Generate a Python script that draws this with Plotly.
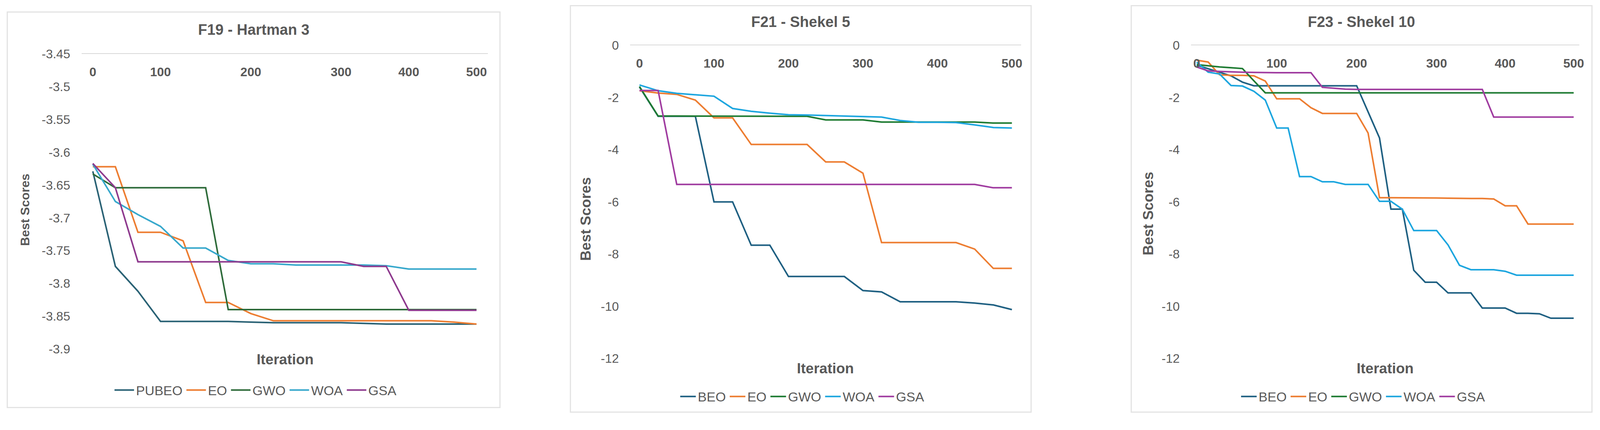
import plotly.graph_objects as go

W, H = 4194, 1100

# ---- data -------------------------------------------------------------
names_f19 = ["PUBEO", "EO", "GWO", "WOA", "GSA"]
names_f21 = ["BEO", "EO", "GWO", "WOA", "GSA"]
names_f23 = ["BEO", "EO", "GWO", "WOA", "GSA"]

iter_f19 = [0, 33, 66, 100, 125, 150, 175, 200, 225, 250, 275, 300, 333, 366,
            400, 433, 466, 500]
f19_pubeo = [-3.629, -3.774, -3.812, -3.858, -3.858, -3.858, -3.858, -3.859,
             -3.860, -3.860, -3.860, -3.860, -3.861, -3.862, -3.862, -3.862,
             -3.862, -3.862]
f19_eo = [-3.622, -3.622, -3.722, -3.722, -3.735, -3.829, -3.829, -3.846,
          -3.857, -3.857, -3.857, -3.857, -3.857, -3.857, -3.857, -3.857,
          -3.859, -3.862]
f19_gwo = [-3.633, -3.654, -3.654, -3.654, -3.654, -3.654, -3.840, -3.840,
           -3.840, -3.840, -3.840, -3.840, -3.840, -3.840, -3.840, -3.840,
           -3.840, -3.840]
f19_woa = [-3.618, -3.675, -3.695, -3.713, -3.746, -3.746, -3.765, -3.770,
           -3.770, -3.772, -3.772, -3.772, -3.772, -3.773, -3.778, -3.778,
           -3.778, -3.778]
f19_gsa = [-3.617, -3.654, -3.767, -3.767, -3.767, -3.767, -3.767, -3.767,
           -3.767, -3.767, -3.767, -3.767, -3.774, -3.774, -3.841, -3.841,
           -3.841, -3.841]

iter_f21 = [0, 25, 50, 75, 100, 125, 150, 175, 200, 225, 250, 275, 300, 325,
            350, 375, 400, 425, 450, 475, 500]
f21_beo = [-1.60, -2.72, -2.72, -2.72, -6.00, -6.00, -7.66, -7.66, -8.86,
           -8.86, -8.86, -8.86, -9.40, -9.45, -9.83, -9.83, -9.83, -9.83,
           -9.88, -9.95, -10.13]
f21_eo = [-1.74, -1.83, -1.88, -2.10, -2.78, -2.78, -3.80, -3.80, -3.80,
          -3.80, -4.47, -4.47, -4.90, -7.56, -7.56, -7.56, -7.56, -7.56,
          -7.81, -8.55, -8.55]
f21_gwo = [-1.58, -2.71, -2.71, -2.71, -2.71, -2.71, -2.71, -2.71, -2.72,
           -2.72, -2.86, -2.86, -2.86, -2.94, -2.94, -2.94, -2.94, -2.94,
           -2.94, -2.98, -2.98]
f21_woa = [-1.52, -1.74, -1.84, -1.89, -1.95, -2.42, -2.53, -2.60, -2.66,
           -2.67, -2.69, -2.70, -2.72, -2.75, -2.88, -2.95, -2.95, -2.96,
           -3.05, -3.15, -3.17]
f21_gsa = [-1.73, -1.73, -5.33, -5.33, -5.33, -5.33, -5.33, -5.33, -5.33,
           -5.33, -5.33, -5.33, -5.33, -5.33, -5.33, -5.33, -5.33, -5.33,
           -5.33, -5.46, -5.46]

iter_f23 = [0, 14, 29, 43, 57, 71, 86, 100, 114, 129, 143, 157, 171, 186, 200,
            214, 229, 243, 257, 271, 286, 300, 317, 333, 350, 367, 383, 400,
            417, 433, 450, 467, 483, 500]
f23_beo = [-0.76, -0.90, -1.03, -1.17, -1.41, -1.55, -1.55, -1.55, -1.55,
           -1.55, -1.55, -1.55, -1.55, -1.55, -1.55, -2.55, -3.55, -6.28,
           -6.28, -8.62, -9.08, -9.08, -9.49, -9.49, -9.49, -10.07, -10.07,
           -10.07, -10.27, -10.27, -10.29, -10.46, -10.46, -10.46]
f23_eo = [-0.57, -0.64, -1.13, -1.15, -1.15, -1.17, -1.37, -2.05, -2.05,
          -2.05, -2.39, -2.61, -2.61, -2.61, -2.61, -3.36, -5.84, -5.84,
          -5.84, -5.84, -5.85, -5.85, -5.86, -5.87, -5.87, -5.87, -5.89,
          -6.15, -6.15, -6.85, -6.85, -6.85, -6.85, -6.85]
f23_gwo = [-0.74, -0.79, -0.83, -0.86, -0.89, -1.36, -1.82, -1.82, -1.82,
           -1.82, -1.82, -1.82, -1.82, -1.82, -1.82, -1.82, -1.82, -1.82,
           -1.82, -1.82, -1.82, -1.82, -1.82, -1.82, -1.82, -1.82, -1.82,
           -1.82, -1.82, -1.82, -1.82, -1.82, -1.82, -1.82]
f23_woa = [-0.65, -1.03, -1.10, -1.54, -1.56, -1.76, -2.10, -3.17, -3.17,
           -5.03, -5.03, -5.23, -5.23, -5.33, -5.33, -5.33, -5.98, -5.98,
           -6.28, -7.10, -7.10, -7.10, -7.65, -8.43, -8.60, -8.60, -8.60,
           -8.66, -8.81, -8.81, -8.81, -8.81, -8.81, -8.81]
f23_gsa = [-0.83, -0.98, -1.00, -1.02, -1.03, -1.04, -1.05, -1.05, -1.05,
           -1.05, -1.05, -1.61, -1.64, -1.68, -1.69, -1.69, -1.69, -1.69,
           -1.69, -1.69, -1.69, -1.69, -1.69, -1.69, -1.69, -1.69, -2.75,
           -2.75, -2.75, -2.75, -2.75, -2.75, -2.75, -2.75]

x_ticks = [0, 100, 200, 300, 400, 500]
y_ticks_f19 = [-3.45, -3.5, -3.55, -3.6, -3.65, -3.7, -3.75, -3.8, -3.85, -3.9]
y_ticks_shekel = [0, -2, -4, -6, -8, -10, -12]

# ---- styling ----------------------------------------------------------
GREY = "#595959"
NARROW = "Liberation Sans Narrow, Arial Narrow, Liberation Sans, sans-serif"
WIDE = "Liberation Sans, Arial, sans-serif"
colors_f19 = ["#2A6275", "#ED7D31", "#2E6B3A", "#37A8CC", "#8E3A8E"]
colors_shekel = ["#1F6082", "#ED7D31", "#1E7B32", "#1DA6DF", "#A03CA0"]

# the captured page comes out a bit stretched/shifted, so positions
# (read in reference pixels) are corrected here
SX, OX, OY = 1.023, 4, 25


def px_x(v):
    return (v / SX - OX) / W


def px_y(v):
    return 1 - (v - OY) / H


charts = [
    dict(title="F19 - Hartman 3", names=names_f19, iters=iter_f19,
         series=[f19_pubeo, f19_eo, f19_gwo, f19_woa, f19_gsa],
         colors=colors_f19, yrange=[-3.9, -3.45], yticks=y_ticks_f19,
         panel=(15, 30, 1309, 1076), plot=(210, 141, 1277, 921),
         title_pos=(662, 77), xt_pos=(745, 949), yt_pos=(61, 553),
         leg_pos=(667, 1030), leg_item=50, yt_font=(WIDE, 32)),
    dict(title="F21 - Shekel 5", names=names_f21, iters=iter_f21,
         series=[f21_beo, f21_eo, f21_gwo, f21_woa, f21_gsa],
         colors=colors_shekel, yrange=[-12, 0], yticks=y_ticks_shekel,
         panel=(1494, 13, 2704, 1088), plot=(1651, 118, 2678, 946),
         title_pos=(2099, 56), xt_pos=(2164, 972), yt_pos=(1535, 577),
         leg_pos=(2103, 1047), leg_item=40, yt_font=(NARROW, 37)),
    dict(title="F23 - Shekel 10", names=names_f23, iters=iter_f23,
         series=[f23_beo, f23_eo, f23_gwo, f23_woa, f23_gsa],
         colors=colors_shekel, yrange=[-12, 0], yticks=y_ticks_shekel,
         panel=(2967, 13, 4177, 1088), plot=(3124, 118, 4144, 946),
         title_pos=(3572, 56), xt_pos=(3634, 972), yt_pos=(3011, 563),
         leg_pos=(3576, 1047), leg_item=40, yt_font=(NARROW, 37)),
]

fig = go.Figure()
shapes, annotations = [], []
layout = dict(width=W, height=H, margin=dict(l=0, r=0, t=0, b=0),
              paper_bgcolor="white", plot_bgcolor="rgba(0,0,0,0)",
              font=dict(family=WIDE, color=GREY), hovermode=False)

for n, c in enumerate(charts, start=1):
    sfx = "" if n == 1 else str(n)
    leg = "legend" + sfx
    lab = "x%d" % (n + 3)
    for name, ys, col in zip(c["names"], c["series"], c["colors"]):
        fig.add_trace(go.Scatter(x=c["iters"], y=ys, name=name, mode="lines",
                                 line=dict(color=col, width=4),
                                 xaxis="x" + sfx, yaxis="y" + sfx,
                                 legend=leg))
    # empty trace so the label-only axis gets drawn
    fig.add_trace(go.Scatter(x=[None], y=[None], xaxis=lab, yaxis="y" + sfx,
                             showlegend=False, hoverinfo="skip"))
    x0, y0, x1, y1 = c["plot"]
    npts = len(c["iters"])
    # category axis carrying the lines; the line on top is the axis line
    layout["xaxis" + sfx] = dict(
        domain=[px_x(x0), px_x(x1)], anchor="y" + sfx, type="category",
        range=[-0.5, npts - 0.5], side="top", showticklabels=False, ticks="",
        showline=True, linecolor="#D9D9D9", linewidth=2,
        showgrid=False, zeroline=False)
    # labels hang just under the top axis line (Excel "next to axis")
    layout["xaxis%d" % (n + 3)] = dict(
        overlaying="x" + sfx, anchor="free", position=px_y(y0),
        side="bottom", range=[-0.5, npts - 0.5], type="linear",
        tickvals=[c["iters"].index(t) for t in x_ticks],
        ticktext=[str(t) for t in x_ticks], ticks="", ticklabelstandoff=24,
        tickfont=dict(family=WIDE, size=32, color=GREY, weight="bold"),
        showline=False, showgrid=False, zeroline=False)
    layout["yaxis" + sfx] = dict(
        domain=[px_y(y1), px_y(y0)], anchor="x" + sfx, range=c["yrange"],
        tickvals=c["yticks"], ticktext=[str(t) for t in c["yticks"]],
        ticks="", ticklabelstandoff=28,
        tickfont=dict(family=WIDE, size=32, color=GREY),
        showgrid=False, zeroline=False, showline=False)
    lx, ly = c["leg_pos"]
    layout[leg] = dict(orientation="h", x=px_x(lx), y=px_y(ly),
                       xanchor="center", yanchor="middle",
                       itemwidth=c["leg_item"],
                       font=dict(family=NARROW, size=34, color=GREY),
                       bgcolor="rgba(0,0,0,0)")
    p0, q0, p1, q1 = c["panel"]
    shapes.append(dict(type="rect", xref="paper", yref="paper",
                       x0=px_x(p0), x1=px_x(p1), y0=px_y(q1), y1=px_y(q0),
                       line=dict(color="#E3E3E3", width=3), layer="below"))
    tx, ty = c["title_pos"]
    annotations.append(dict(text="<b>%s</b>" % c["title"], x=px_x(tx),
                            y=px_y(ty), xref="paper", yref="paper",
                            showarrow=False, xanchor="center", yanchor="middle",
                            font=dict(family=NARROW, size=38, color=GREY)))
    ix, iy = c["xt_pos"]
    annotations.append(dict(text="<b>Iteration</b>", x=px_x(ix), y=px_y(iy),
                            xref="paper", yref="paper", showarrow=False,
                            xanchor="center", yanchor="middle",
                            font=dict(family=NARROW, size=37, color=GREY)))
    bx, by = c["yt_pos"]
    fam, size = c["yt_font"]
    annotations.append(dict(text="<b>Best Scores</b>", x=px_x(bx), y=px_y(by),
                            xref="paper", yref="paper", showarrow=False,
                            textangle=-90, xanchor="center", yanchor="middle",
                            font=dict(family=fam, size=size, color=GREY)))

layout["shapes"] = shapes
layout["annotations"] = annotations
fig.update_layout(**layout)
fig.write_html("out.html")
